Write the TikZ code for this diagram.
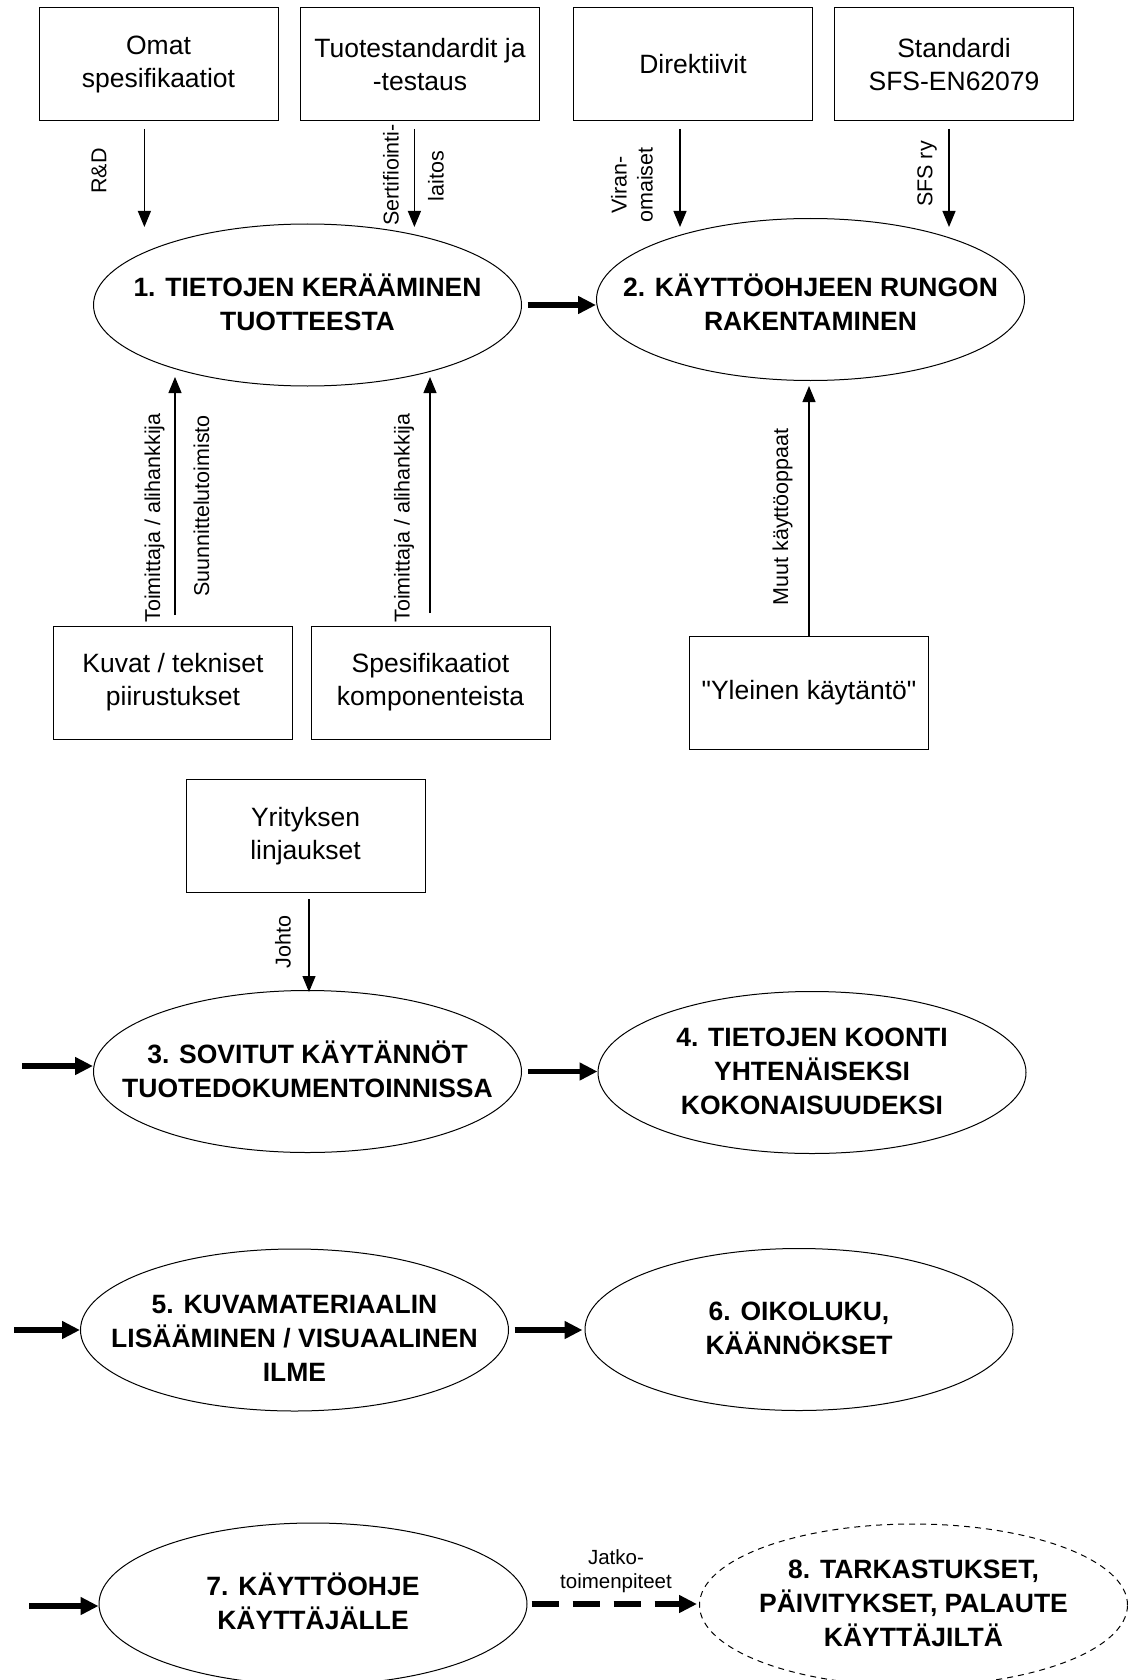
\documentclass[tikz,border=0pt]{standalone}
\usepackage{fontspec}
\setmainfont{Liberation Sans}[Ligatures=TeXOff]
\usetikzlibrary{shapes.geometric,arrows.meta}
\tikzset{
  box/.style={draw, line width=1pt, minimum width=239pt, minimum height=113pt, inner sep=0pt, align=center, font=\fontsize{26.5}{33}\selectfont},
  oval/.style={draw, ellipse, line width=1pt, minimum width=428pt, minimum height=162pt, inner sep=0pt},
  dashedoval/.style={oval, dash pattern=on 6pt off 5pt},
  ovaltext/.style={align=center, inner sep=0pt, font=\bfseries\fontsize{26.5}{34}\selectfont},
  lbl/.style={rotate=90, inner sep=0pt, align=center, font=\fontsize{21.5}{26}\selectfont},
  hlbl/.style={inner sep=0pt, align=center, font=\fontsize{20.5}{24}\selectfont},
  thinarrow/.style={line width=1.2pt, -{Triangle[length=16pt,width=13pt]}},
  fatarrow/.style={line width=5.5pt, -{Triangle[length=18pt,width=17pt]}},
  fatdash/.style={fatarrow, dash pattern=on 27pt off 14pt},
}
\begin{document}
\begin{tikzpicture}[x=1pt,y=-1pt]
\path[fill=white, use as bounding box] (0,0) rectangle (1132,1680);

% boxes
\node[box] (omat)    at (158.5,64.5) {Omat\\spesifikaatiot};
\node[box] (tuote)   at (420,64.5)   {Tuotestandardit ja\\-testaus};
\node[box] (direk)   at (693,64.5)   {Direktiivit};
\node[box] (stand)   at (954,64.5)   {Standardi\\SFS-EN62079};
\node[box] (kuvat)   at (173,682.5)  {Kuvat / tekniset\\piirustukset};
\node[box] (spesi)   at (430.5,682.5){Spesifikaatiot\\komponenteista};
\node[box] (yleinen) at (809,692.5)  {"Yleinen käytäntö"};
\node[box] (yritys)  at (305.5,836)  {Yrityksen\\linjaukset};

% ellipses
\node[oval] (e1) at (307.5,305) {};
\node[oval] (e2) at (810.5,299.5) {};
\node[oval] (e3) at (307.5,1071.5) {};
\node[oval] (e4) at (812,1072.5) {};
\node[oval] (e5) at (294.5,1330) {};
\node[oval] (e6) at (799,1329.5) {};
\node[oval] (e7) at (313,1604) {};
\node[dashedoval] (e8) at (913.5,1605) {};

\node[ovaltext] (t1) at (307.5,302) {1. TIETOJEN KERÄÄMINEN\\TUOTTEESTA};
\node[ovaltext] (t2) at (810.5,302) {2. KÄYTTÖOHJEEN RUNGON\\RAKENTAMINEN};
\node[ovaltext] (t3) at (307.5,1069.5) {3. SOVITUT KÄYTÄNNÖT\\TUOTEDOKUMENTOINNISSA};
\node[ovaltext] (t4) at (812,1071) {4. TIETOJEN KOONTI\\YHTENÄISEKSI\\KOKONAISUUDEKSI};
\node[ovaltext] (t5) at (294.5,1338) {5. KUVAMATERIAALIN\\LISÄÄMINEN / VISUAALINEN\\ILME};
\node[ovaltext] (t6) at (799,1328.5) {6. OIKOLUKU,\\KÄÄNNÖKSET};
\node[ovaltext] (t7) at (313,1601) {7. KÄYTTÖOHJE\\KÄYTTÄJÄLLE};
\node[ovaltext] (t8) at (913.5,1603) {8. TARKASTUKSET,\\PÄIVITYKSET, PALAUTE\\KÄYTTÄJILTÄ};

% top arrows
\coordinate (a1s) at (144.4,129); \coordinate (a1e) at (144.4,227);
\coordinate (a2s) at (414.4,129); \coordinate (a2e) at (414.4,227);
\coordinate (a3s) at (680,129);   \coordinate (a3e) at (680,227);
\coordinate (a4s) at (949,129);   \coordinate (a4e) at (949,227);
\draw[thinarrow] (a1s) -- (a1e);
\draw[thinarrow] (a2s) -- (a2e);
\draw[thinarrow] (a3s) -- (a3e);
\draw[thinarrow] (a4s) -- (a4e);

\node[lbl] (lrd)   at (99,171)  {R\&D};
\node[lbl] (lser)  at (391,175) {Sertifiointi-};
\node[lbl] (llai)  at (436,176) {laitos};
\node[lbl] (lvir)  at (632,185) {Viran-\\omaiset};
\node[lbl] (lsfs)  at (927,174) {SFS ry};

% upward arrows
\coordinate (b1s) at (175,615); \coordinate (b1e) at (175,377);
\coordinate (b2s) at (430,613); \coordinate (b2e) at (430,377);
\coordinate (b3e) at (809,386);
\draw[thinarrow] (b1s) -- (b1e);
\draw[thinarrow] (b2s) -- (b2e);
\draw[thinarrow] (yleinen.north) -- (b3e);

\node[lbl] (ltoi1) at (154.5,518) {Toimittaja / alihankkija};
\node[lbl] (lsuu)  at (201.4,506) {Suunnittelutoimisto};
\node[lbl] (ltoi2) at (404,518)   {Toimittaja / alihankkija};
\node[lbl] (lmuu)  at (782.6,517) {Muut käyttöoppaat};

% Johto
\coordinate (js) at (309,899); \coordinate (je) at (309,992);
\draw[thinarrow] (js) -- (je);
\node[lbl] (ljoh) at (283,942) {Johto};

% fat arrows
\coordinate (c3) at (22,1066);
\coordinate (c5) at (14,1330);
\coordinate (c7) at (29,1606);
\draw[fatarrow] ([xshift=5.5pt]e1.east) -- (e1.east -| e2.west);
\draw[fatarrow] ([xshift=6pt]e3.east) -- (e3.east -| e4.west);
\draw[fatarrow] ([xshift=5.5pt]e5.east) -- ([xshift=-2pt]e5.east -| e6.west);
\draw[fatarrow] (c3) -- (c3 -| e3.west);
\draw[fatarrow] (c5) -- (c5 -| e5.west);
\draw[fatarrow] (c7) -- (c7 -| e7.west);
\draw[fatdash] ([xshift=4pt]e7.east) -- ([xshift=-2pt]e7.east -| e8.west);
\node[hlbl] (ljat) at (616,1571) {Jatko-\\toimenpiteet};
\end{tikzpicture}
\end{document}
